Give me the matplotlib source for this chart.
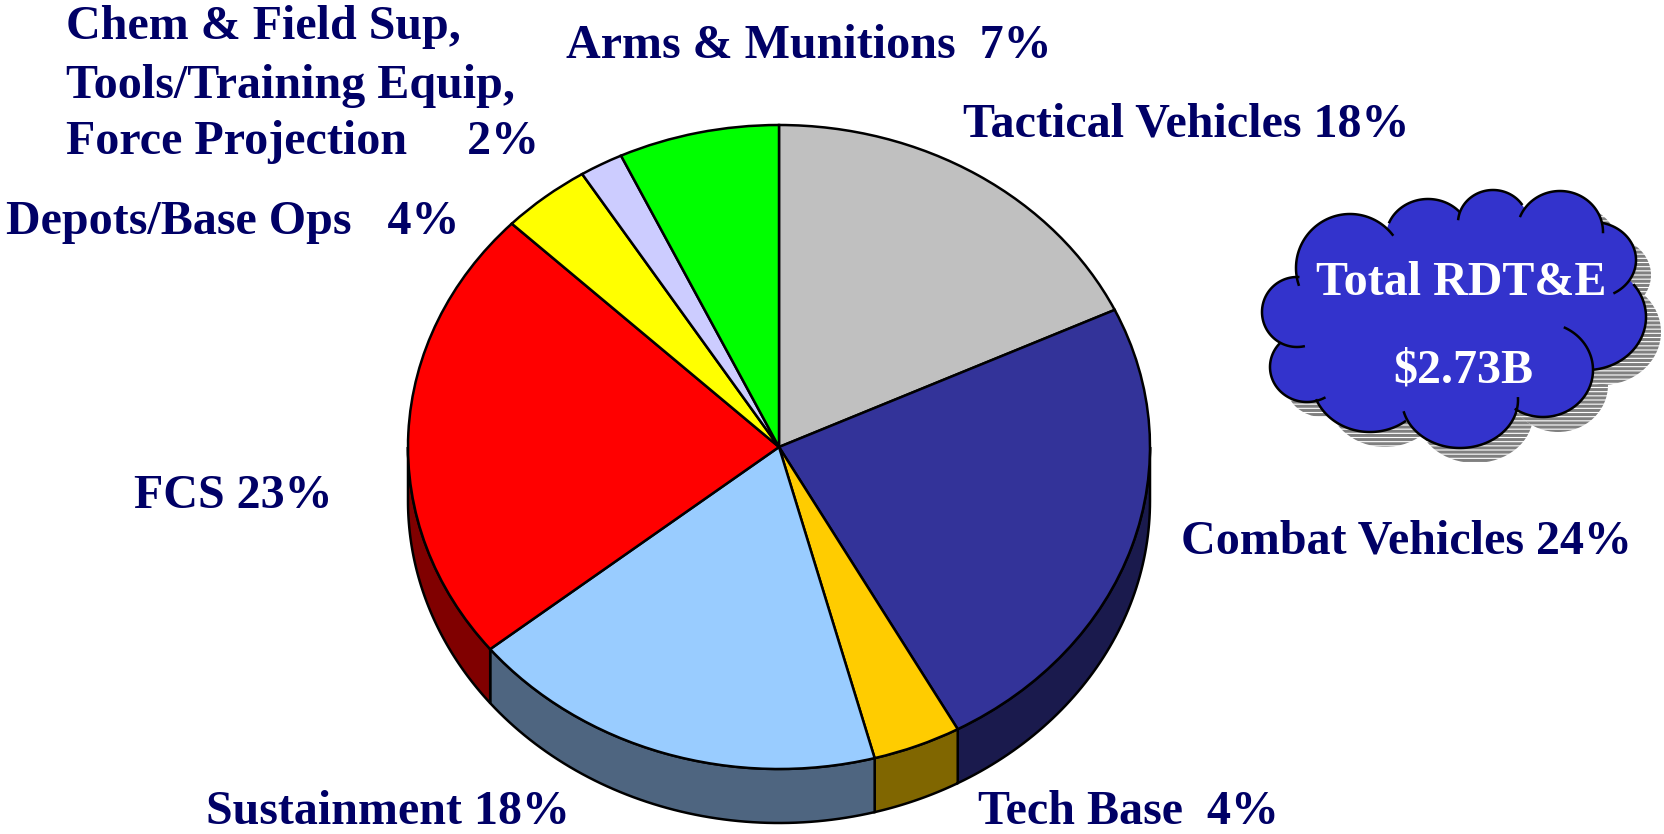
import numpy as np
import matplotlib
matplotlib.use('Agg')
import matplotlib.pyplot as plt
from matplotlib.patches import Ellipse

plt.rcParams['font.family'] = ['Liberation Serif', 'DejaVu Serif']
plt.rcParams['hatch.linewidth'] = 2.2

# slices, clockwise from 12 o'clock (labels round them)
values = [18, 24, 3.85, 18.35, 23, 3.9, 1.9, 7.0]
top_colors = ['#C0C0C0', '#333399', '#FFCC00', '#99CCFF', '#FF0000', '#FFFF00', '#CCCCFF', '#00FF00']
side_colors = ['#606060', '#1A1A4D', '#806600', '#4E6580', '#800000', '#808000', '#666680', '#008000']

labels = ['Tactical Vehicles 18%', 'Combat Vehicles 24%', 'Tech Base  4%', 'Sustainment 18%',
          'FCS 23%', 'Depots/Base Ops   4%', 'Chem & Field Sup,', 'Tools/Training Equip,',
          'Force Projection     2%', 'Arms & Munitions  7%']
label_x = [963, 1181, 978, 206, 134, 6, 66, 66, 66, 566]
label_y = [136, 553, 824, 824, 508, 234, 39, 98, 154, 58]

cloud_text = ['Total RDT&E', '$2.73B']
cloud_text_x = [1316, 1393]
cloud_text_y = [295, 382]

# cloud lobes in 1664x834 pixels: cx, cy, rx, ry, first and last angle of the drawn arc
lobes = [(1297, 312, 35, 35, 79, 272), (1307, 367, 37, 35, 62, 222), (1370, 380, 58, 52, 53, 157),
         (1460, 400, 58, 48, -2, 165), (1543, 370, 50, 47, -64, 123), (1587, 317, 59, 53, -37, 83),
         (1593, 260, 43, 38, -77, 60), (1560, 232, 43, 41, 203, 360), (1493, 223, 35, 33, 187, 325),
         (1428, 237, 42, 38, 203, 318), (1350, 268, 54, 54, 162, 322), (1450, 300, 110, 85, 0, 0),
         (1345, 330, 60, 60, 0, 0)]

W, H = 1664, 834
cx, cy, rx, ry, depth = 779, 447, 371, 322, 54
navy = '#000066'
blue = '#3333CC'

fig = plt.figure(figsize=(W / 100, H / 100), dpi=100, facecolor='white')
ax = fig.add_axes([0, 0, 1, 1])
ax.set_xlim(0, W)
ax.set_ylim(H, 0)
ax.axis('off')

# cloud shadow, then the fill, then only the arcs that show
for x, y, a, b, t1, t2 in lobes:
    ax.add_patch(Ellipse((x + 15, y + 15), 2 * a, 2 * b, facecolor='white', edgecolor='#808080',
                         hatch='----', lw=0, zorder=1))
for x, y, a, b, t1, t2 in lobes:
    ax.add_patch(Ellipse((x, y), 2 * a, 2 * b, facecolor=blue, edgecolor='none', zorder=2))
for x, y, a, b, t1, t2 in lobes:
    if t1 == t2:
        continue
    t = np.radians(np.linspace(t1, t2, 80))
    ax.plot(x + a * np.cos(t), y + b * np.sin(t), color='black', lw=1.8, zorder=3)

for s, x, y in zip(labels, label_x, label_y):
    ax.text(x, y, s, color=navy, fontsize=34.6, fontweight='bold', va='baseline', ha='left')
for s, x, y in zip(cloud_text, cloud_text_x, cloud_text_y):
    ax.text(x, y, s, color='white', fontsize=34.6, fontweight='bold', va='baseline', ha='left', zorder=4)

# pie axes: data unit circle is stretched to the tilted ellipse
pie_ax = fig.add_axes([(cx - 1.25 * rx) / W, 1 - (cy + 1.25 * ry) / H, 2.5 * rx / W, 2.5 * ry / H])
pie_ax.pie(values, colors=top_colors, startangle=90, counterclock=False,
           wedgeprops={'edgecolor': 'black', 'linewidth': 1.8})
pie_ax.set_aspect('auto')
pie_ax.set_xlim(-1.25, 1.25)
pie_ax.set_ylim(-1.25, 1.25)
pie_ax.patch.set_alpha(0)

# side wall, only the front half of the rim shows
d = depth / ry
edges = np.concatenate([[0], np.cumsum(values)]) / np.sum(values) * 360
for i in range(len(values)):
    a1, a2 = max(edges[i], 90), min(edges[i + 1], 270)
    if a1 >= a2:
        continue
    t = np.radians(np.linspace(a1, a2, 60))
    xs = np.sin(t)
    ys = np.cos(t)
    pie_ax.fill(np.r_[xs, xs[::-1]], np.r_[ys, ys[::-1] - d], facecolor=side_colors[i],
                edgecolor='black', lw=1.8, zorder=0)

fig.savefig('out.png', dpi=100)
